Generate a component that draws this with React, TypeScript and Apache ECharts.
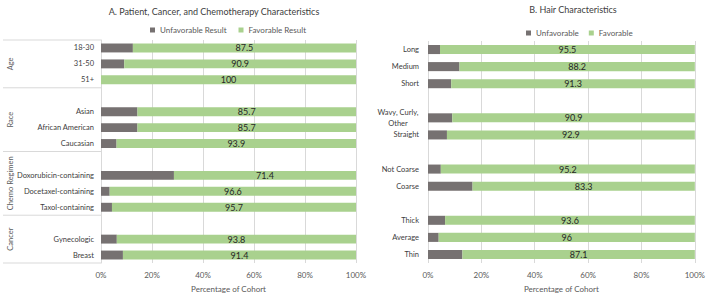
import React, { useEffect, useRef } from "react";
import * as echarts from "echarts";

const leftCategories = ["18-30", "31-50", "51+", "gap1", "Asian", "African American", "Caucasian", "gap2", "Doxorubicin-containing", "Docetaxel-containing", "Taxol-containing", "gap3", "Gynecologic", "Breast"];
const leftUnfavorable = [12.5, 9.1, 0, null, 14.3, 14.3, 6.1, null, 28.6, 3.4, 4.3, null, 6.2, 8.6];
const leftFavorable = [87.5, 90.9, 100, null, 85.7, 85.7, 93.9, null, 71.4, 96.6, 95.7, null, 93.8, 91.4];
const leftGroups = [
  { name: "Age", from: 0, to: 2 },
  { name: "Race", from: 3, to: 6 },
  { name: "Chemo Regimen", from: 7, to: 10 },
  { name: "Cancer", from: 11, to: 13 },
];

const rightCategories = ["Long", "Medium", "Short", "gap1", "Wavy, Curly,\nOther", "Straight", "gap2", "Not Coarse", "Coarse", "gap3", "Thick", "Average", "Thin"];
const rightUnfavorable = [4.5, 11.8, 8.7, null, 9.1, 7.1, null, 4.8, 16.7, null, 6.4, 4, 12.9];
const rightFavorable = [95.5, 88.2, 91.3, null, 90.9, 92.9, null, 95.2, 83.3, null, 93.6, 96, 87.1];

const xTicks = [0, 20, 40, 60, 80, 100];

const GRAY = "#767171";
const GREEN = "#A9D18E";
const FONT = "Lato";

export default function App() {
  const ref = useRef<HTMLDivElement>(null);
  useEffect(() => {
    document.body.style.margin = "0";
    const chart = echarts.init(ref.current!, undefined, { renderer: "svg" });
    const catLabel = (v: string) => {
      if (v.startsWith("gap")) return "";
      if (v.indexOf("\n") >= 0) return v.split("\n").map((s) => "{c|" + s + "}").join("\n");
      return v;
    };
    const xAxisBase = (gridIndex: number) => ({
      type: "value",
      gridIndex,
      min: xTicks[0],
      max: xTicks[xTicks.length - 1],
      interval: xTicks[1] - xTicks[0],
      axisLine: { show: false },
      axisTick: { show: false },
      splitLine: { show: true, lineStyle: { color: "#d9d9d9", width: 1 } },
      axisLabel: { formatter: "{value}%", color: "#595959", fontSize: 8, fontFamily: FONT, margin: 8 },
      name: "Percentage of Cohort",
      nameLocation: "middle",
      nameGap: 22,
      nameTextStyle: { color: "#595959", fontSize: 8, fontFamily: FONT },
    });
    const labelStyle = { show: true, position: "inside", color: "#262626", fontSize: 9, fontFamily: FONT };
    chart.setOption({
      animation: false,
      textStyle: { fontFamily: FONT },
      title: [
        { text: "A. Patient, Cancer, and Chemotherapy Characteristics", left: 209, top: 2, textAlign: "center", textStyle: { fontSize: 9, fontWeight: "normal", color: "#404040", fontFamily: FONT } },
        { text: "B. Hair Characteristics", left: 568, top: 0, textAlign: "center", textStyle: { fontSize: 9, fontWeight: "normal", color: "#404040", fontFamily: FONT } },
      ],
      legend: [
        { data: ["Unfavorable Result", "Favorable Result"], left: 145, top: 21, itemWidth: 5, itemHeight: 5, itemGap: 12, icon: "rect", textStyle: { fontSize: 8, color: "#595959", fontFamily: FONT } },
        { data: ["Unfavorable", "Favorable"], left: 521, top: 24, itemWidth: 5, itemHeight: 5, itemGap: 10, icon: "rect", textStyle: { fontSize: 8, color: "#595959", fontFamily: FONT } },
      ],
      grid: [
        { left: 101, top: 40, width: 255, height: 229, containLabel: false },
        { left: 428, top: 41, width: 270, height: 228, containLabel: false },
      ],
      xAxis: [xAxisBase(0), xAxisBase(1)],
      yAxis: [
        {
          type: "category", gridIndex: 0, inverse: true, data: leftCategories,
          axisTick: { show: false },
          axisLine: { show: true, lineStyle: { color: "#d9d9d9" } },
          axisLabel: { formatter: catLabel, color: "#404040", fontSize: 7.5, fontFamily: FONT, margin: 7, interval: 0 },
        },
        {
          type: "category", gridIndex: 1, inverse: true, data: rightCategories,
          axisTick: { show: false },
          axisLine: { show: false },
          axisLabel: {
            formatter: catLabel, color: "#404040", fontSize: 7.5, fontFamily: FONT, margin: 9, interval: 0, lineHeight: 11,
            rich: { c: { width: 42, align: "center", fontSize: 7.5, fontFamily: FONT, color: "#404040", lineHeight: 11 } },
          },
        },
      ],
      series: [
        { name: "Unfavorable Result", type: "bar", stack: "a", xAxisIndex: 0, yAxisIndex: 0, data: leftUnfavorable, itemStyle: { color: GRAY }, barCategoryGap: "44%" },
        { name: "Favorable Result", type: "bar", stack: "a", xAxisIndex: 0, yAxisIndex: 0, data: leftFavorable, itemStyle: { color: GREEN }, label: labelStyle, barCategoryGap: "44%" },
        { name: "Unfavorable", type: "bar", stack: "b", xAxisIndex: 1, yAxisIndex: 1, data: rightUnfavorable, itemStyle: { color: GRAY }, barCategoryGap: "47%" },
        { name: "Favorable", type: "bar", stack: "b", xAxisIndex: 1, yAxisIndex: 1, data: rightFavorable, itemStyle: { color: GREEN }, label: labelStyle, barCategoryGap: "47%" },
      ],
    });

    const c0 = chart.convertToPixel({ yAxisIndex: 0 }, 0) as number;
    const c1 = chart.convertToPixel({ yAxisIndex: 0 }, 1) as number;
    const half = (c1 - c0) / 2;
    const axisX = chart.convertToPixel({ xAxisIndex: 0 }, 0) as number;
    const elements: any[] = [];
    leftGroups.forEach((g, i) => {
      const top = (chart.convertToPixel({ yAxisIndex: 0 }, g.from) as number) - half;
      const bottom = (chart.convertToPixel({ yAxisIndex: 0 }, g.to) as number) + half;
      if (i === 0) {
        elements.push({ type: "line", shape: { x1: 3, y1: top, x2: axisX, y2: top }, style: { stroke: "#d9d9d9", lineWidth: 1 } });
      }
      elements.push({ type: "line", shape: { x1: 3, y1: bottom, x2: axisX, y2: bottom }, style: { stroke: "#d9d9d9", lineWidth: 1 } });
      elements.push({
        type: "text", x: 10, y: (top + bottom) / 2, rotation: Math.PI / 2,
        style: { text: g.name, fill: "#595959", fontSize: 7.5, fontFamily: FONT, textAlign: "center", textVerticalAlign: "middle" },
      });
    });
    chart.setOption({ graphic: elements });
    return () => chart.dispose();
  }, []);
  return <div ref={ref} style={{ width: 708, height: 298 }} />;
}
